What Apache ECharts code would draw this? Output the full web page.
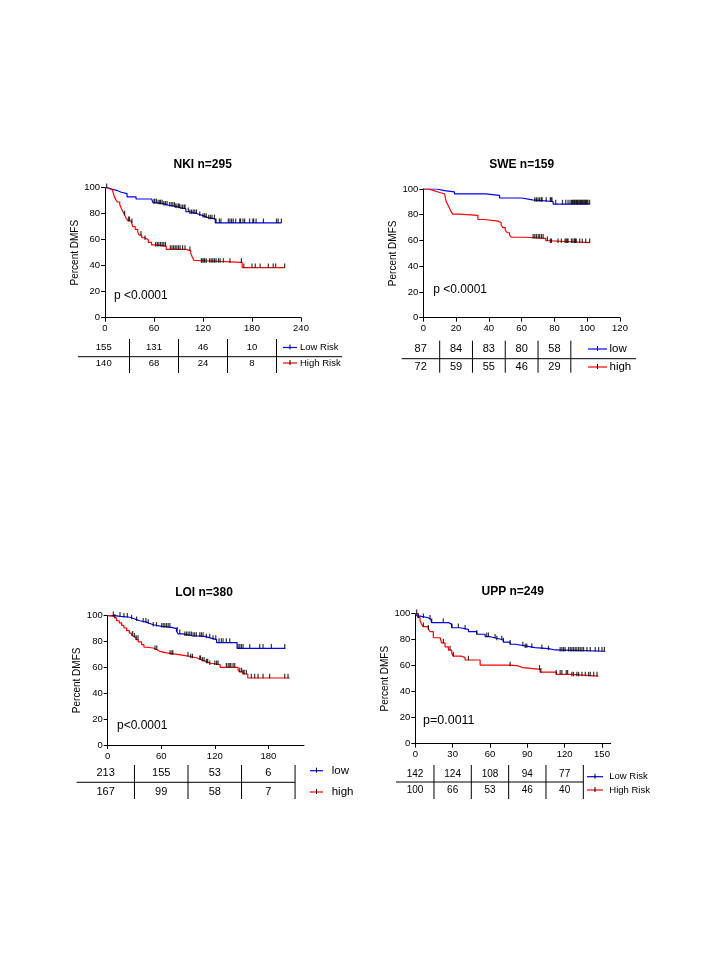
<!DOCTYPE html>
<html><head><meta charset="utf-8">
<script src="https://cdn.jsdelivr.net/npm/echarts@6/dist/echarts.min.js"></script>
<style>html,body{margin:0;padding:0;background:#fff}#c{width:720px;height:960px}</style>
</head><body><div id="c"></div>
<script>
// ---------- DATA (months, percent DMFS) ----------
const nkiLow = [[0,100],[3,99],[8,98],[14,96.5],[20,95.5],[27,93],[38,91.3],[57,90.5],[59,88.3],[64,87.5],[72,86.5],[78,85.7],[86,84.5],[93,83.8],[99,81.5],[103,80],[113,78.5],[120,77],[126,76],[135,73],[216,73]];
const nkiHigh = [[0,100],[3,99],[6,98.5],[9,97],[11,94],[13,91],[15,89],[18,87],[20,84],[22,81.5],[24,79],[26,76.5],[28,74.5],[32,73],[34,70],[37,68],[40,66],[42,63.5],[45,61.5],[49,60],[53,58],[57,56],[61,55],[75,52.5],[99,51.5],[105,49.5],[107,46.5],[109,44],[113,42.5],[168,38.5],[220,38.5]];
const nkiLowCens = [2,60,61,63,65,67,68,70,72,74,76,79,81,83,85,86,88,90,91,93,95,97,98,102,104,106,108,110,112,116,120,122,124,127,129,131,134,136,140,142,151,153,155,157,160,165,166,169,171,177,181,182,185,194,210,212,216];
const nkiHighCens = [24,29,30,33,44,49,62,64,66,68,70,72,74,80,82,84,86,88,90,92,95,98,104,118,119,121,122,124,128,130,132,134,136,139,141,145,153,167,170,180,184,190,200,206,209,220];
const nkiRiskTimes = [0,60,120,180];
const nkiRiskLow = [155,131,46,10];
const nkiRiskHigh = [140,68,24,8];

const sweLow = [[0,100],[8,98.8],[13,97.8],[19,96.2],[38,95],[46.5,93],[60,91.5],[66.6,90.3],[79.2,88.3],[101.5,88.3]];
const sweHigh = [[0,100],[3,98.5],[7,97.5],[9.5,96.3],[13,95],[13.5,92.8],[14,90.1],[15,87.6],[16,85],[17,82.4],[18,80.5],[22.2,79.5],[33.3,76.3],[37.4,75],[45.5,74],[47.5,72],[48.5,70],[50,68.1],[51.2,66],[52.6,64.3],[53.6,62.5],[62,61.7],[74.7,59.8],[76.7,58.3],[101.5,58.3]];
const sweLowCens = [68,69,70,71,72,72.5,75,77.5,78,78.5,80.8,84.9,86.9,88.3,89.5,90.4,91,91.5,92,92.4,93,93.5,94,94.4,95,95.5,96,96.5,97,97.5,98,98.5,99,99.5,100,100.5,101.5];
const sweHighCens = [67,68,69,70.1,71,72.1,73.1,75.7,77.5,78.2,82.2,84.2,86.5,87.2,87.8,88.3,90.4,91.3,92.3,92.8,93.3,95.4,97,99.1,101.5];
const sweRiskTimes = [0,20,40,60,80];
const sweRiskLow = [87,84,83,80,58];
const sweRiskHigh = [72,59,55,46,29];

const loiLow = [[0,100],[8,99.5],[14,98.8],[25,97.4],[30.5,96.1],[36,95],[43.6,94],[47.3,93],[51,91.8],[60.4,91],[71.6,90],[77.1,88],[79,86],[84.5,84.5],[95,84],[109,82.8],[115,81.5],[122,79.2],[145,74.8],[199,74.8]];
const loiHigh = [[0,100],[2.6,99.5],[6.3,98],[10,96.1],[13,94.4],[15.6,92.5],[18.2,90.5],[21.2,88.4],[24.2,86.6],[26.8,84.8],[28.6,83.3],[31.6,81.5],[34.2,79.7],[38,77.6],[40.6,75.6],[43.6,75],[51,73.7],[55.5,72.4],[58.5,71.2],[66,69.9],[80,68.6],[92,67.3],[100,66],[105,64.7],[110,63.4],[114,62.1],[126,60.1],[146,58.2],[148,56.5],[151.6,54.9],[157,51.8],[204,51.8]];
const loiLowCens = [6.3,13.8,18.2,22,26.8,32.4,39.8,42.8,45.4,51,54.7,60.4,62.2,64,65.9,67.8,69.7,77.9,80.8,86.4,88.3,90.1,92,93.8,95.7,97.5,99.4,103.2,105,106.9,110.6,114.4,118.1,121.1,124.8,127.4,129.3,133,136.8,146.1,148,149.8,151.7,159.2,170.4,174.1,183.4,198.4];
const loiHighCens = [8,28,30,32,34,53,55,70,72,73,90,93,95,104,103.2,106,108,110.7,112,114.4,120,122,123.7,133,135,136.8,138,140.5,142.4,148,150,151.7,153,155.4,161,164.7,168.5,174.1,181.5,198.4,202.1];
const loiRiskTimes = [0,60,120,180];
const loiRiskLow = [213,155,53,6];
const loiRiskHigh = [167,99,58,7];

const uppLow = [[0,100],[1.6,98.2],[3.8,96.9],[10.5,95.7],[12.4,94.6],[13.2,93.1],[27,91.8],[29.3,89.2],[36,88],[42.7,86.2],[49.4,84.2],[56.1,82.3],[60.1,81.1],[65.5,79.8],[70.8,78.2],[76.2,76.5],[80.2,75.2],[88.3,73.9],[96.3,73.1],[107,72.1],[112.4,71.1],[152.7,71.1]];
const uppHigh = [[0,100],[2,97],[3.8,94.6],[5,92],[6.4,90],[10.5,88],[12,86.2],[14.5,81.5],[19.9,80],[21.2,77.5],[23.9,74.5],[26.6,72],[29.3,69.5],[30.6,67.3],[37.3,66.2],[40,64.4],[52.1,60.5],[76.2,59.8],[82.9,58.5],[86.4,57.2],[100.3,55],[113.2,53.4],[124.5,52],[147,52]];
const uppLowCens = [1.1,6.5,11.8,13.2,22.5,29.3,34.6,40,49.4,57.4,58.8,64.1,65.5,69.5,70.8,76.2,86.4,88.3,89.6,93.6,101.7,107,116.4,117.8,119.1,120.4,123.1,124.5,125.8,127.1,128.5,129.8,131.2,132.5,133.9,135.2,137.9,140.6,144.6,147.3,150,151.9];
const uppHighCens = [2.5,6.5,10.5,22.5,27.9,30.6,42.7,76.2,99.8,100.9,113.2,116.4,117.8,121.3,122.4,125.8,127.1,129.8,131.2,133.9,136.6,139.2,140.6,143.3,146];
const uppRiskTimes = [0,30,60,90,120];
const uppRiskLow = [142,124,108,94,77];
const uppRiskHigh = [100,66,53,46,40];

// ---------- LAYOUT ----------
const FONT = '"Liberation Sans", Arial, sans-serif';
const NARROW = '"Liberation Sans Narrow", "Liberation Sans", sans-serif';
const BLUE = '#0000ff', RED = '#ff0000';
const panels = [
  {title:'NKI n=295', tx:202.7, ty:166, grid:{left:105, top:187.7, width:196, height:130}, xMax:240, xInt:60, ticks:null,
   low:nkiLow, high:nkiHigh, lowC:nkiLowCens, highC:nkiHighCens, p:'p <0.0001', px:114, py:296, pFont:12,
   rt:nkiRiskTimes, rl:nkiRiskLow, rh:nkiRiskHigh, r1:347.7, r2:363, hy:356.7, vt:339, vb:373, tl:78, hr:342, numFont:9.5,
   leg:['Low Risk','High Risk'], lx1:283, lx2:297, ltx:300, ly1:347.5, ly2:363, legFont:NARROW, legSize:9.5},
  {title:'SWE n=159', tx:521.7, ty:166, grid:{left:423.3, top:189, width:196.7, height:128.7}, xMax:120, xInt:20, ticks:null,
   low:sweLow, high:sweHigh, lowC:sweLowCens, highC:sweHighCens, p:'p <0.0001', px:433.3, py:290, pFont:12,
   rt:sweRiskTimes, rl:sweRiskLow, rh:sweRiskHigh, r1:349.3, r2:367, hy:358.7, vt:340.7, vb:372.7, tl:401.7, hr:636, numFont:11,
   leg:['low','high'], lx1:588, lx2:607, ltx:609.5, ly1:349, ly2:367, legFont:FONT, legSize:11.5},
  {title:'LOI n=380', tx:204, ty:594, grid:{left:107.7, top:615.7, width:196.3, height:129.3}, xMax:220, xInt:60, ticks:[0,60,120,180],
   low:loiLow, high:loiHigh, lowC:loiLowCens, highC:loiHighCens, p:'p<0.0001', px:117, py:725.7, pFont:12,
   rt:loiRiskTimes, rl:loiRiskLow, rh:loiRiskHigh, r1:772.7, r2:791.7, hy:782.3, vt:765, vb:799, tl:76.7, hr:null, numFont:11,
   leg:['low','high'], lx1:310, lx2:323, ltx:331.7, ly1:770.7, ly2:792, legFont:FONT, legSize:11.5},
  {title:'UPP n=249', tx:512.7, ty:592.7, grid:{left:415.3, top:613.7, width:195.4, height:130}, xMax:157, xInt:30, ticks:[0,30,60,90,120,150],
   low:uppLow, high:uppHigh, lowC:uppLowCens, highC:uppHighCens, p:'p=0.0011', px:423, py:721, pFont:12.5,
   rt:uppRiskTimes, rl:uppRiskLow, rh:uppRiskHigh, r1:774, r2:790.3, hy:782, vt:765, vb:799, tl:396, hr:null, numFont:10,
   leg:['Low Risk','High Risk'], lx1:587, lx2:603, ltx:609.3, ly1:776.7, ly2:790, legFont:NARROW, legSize:9.5}
];

function survAt(curve, t){ let s = curve[0][1]; for (const p of curve){ if (p[0] <= t) s = p[1]; else break; } return s; }

const grids = [], xAxes = [], yAxes = [], series = [], titles = [];
panels.forEach((P, i) => {
  grids.push(Object.assign({}, P.grid));
  titles.push({text:P.title, left:P.tx, top:P.ty - 7, textAlign:'center', padding:0,
    textStyle:{fontFamily:FONT, fontWeight:'bold', fontSize:12, color:'#000'}});
  const axisCommon = {axisLine:{show:true, onZero:false, lineStyle:{color:'#000', width:1}},
    axisTick:{show:true, length:4, lineStyle:{color:'#000'}}, splitLine:{show:false}};
  const xa = Object.assign({type:'value', gridIndex:i, min:0, max:P.xMax, interval:P.xInt,
    axisLabel:{fontFamily:FONT, fontSize:9.5, color:'#000', margin:6}}, axisCommon);
  if (P.ticks){
    xa.axisLabel.customValues = P.ticks;
    xa.axisTick = {show:true, length:4, lineStyle:{color:'#000'}, customValues:P.ticks};
  }
  xAxes.push(xa);
  yAxes.push(Object.assign({type:'value', gridIndex:i, min:0, max:100, interval:20,
    name:'Percent DMFS', nameLocation:'middle', nameGap:25,
    nameTextStyle:{fontFamily:FONT, fontSize:10, color:'#000'},
    axisLabel:{fontFamily:FONT, fontSize:9.5, color:'#000', margin:5}}, axisCommon));
  [[P.low, BLUE, P.lowC], [P.high, RED, P.highC]].forEach(([curve, col, cens]) => {
    series.push({type:'line', xAxisIndex:i, yAxisIndex:i, step:'end', symbol:'none', data:curve,
      lineStyle:{color:col, width:1.2}, silent:true, z:2});
    series.push({type:'scatter', xAxisIndex:i, yAxisIndex:i, symbol:'rect', symbolSize:[1.2,4.5], symbolOffset:[0,-2],
      itemStyle:{color:'#000'}, data:cens.map(t => [t, survAt(curve, t)]), silent:true, z:3});
  });
});

const chart = echarts.init(document.getElementById('c'), null, {renderer:'canvas'});
chart.setOption({backgroundColor:'#fff', animation:false, title:titles, grid:grids, xAxis:xAxes, yAxis:yAxes, series:series});

// risk tables, legends, p-values
const g = [];
panels.forEach((P, i) => {
  const px = t => chart.convertToPixel({xAxisIndex:i}, t);
  const n = P.rt.length;
  const edges = [P.tl];
  for (let k = 0; k < n; k++){
    const next = k < n-1 ? (P.rt[k] + P.rt[k+1]) / 2 : P.rt[k] + (P.rt[k] - P.rt[k-1]) / 2;
    edges.push(px(next));
  }
  const hr = P.hr == null ? edges[n] : P.hr;
  g.push({type:'line', shape:{x1:P.tl, y1:P.hy, x2:hr, y2:P.hy}, style:{stroke:'#000', lineWidth:1}});
  for (let k = 1; k <= n; k++){
    g.push({type:'line', shape:{x1:edges[k], y1:P.vt, x2:edges[k], y2:P.vb}, style:{stroke:'#000', lineWidth:1}});
  }
  for (let k = 0; k < n; k++){
    const cx = (edges[k] + edges[k+1]) / 2;
    g.push({type:'text', x:cx, y:P.r1, style:{text:String(P.rl[k]), fill:'#000', font:P.numFont+'px '+FONT, textAlign:'center', textVerticalAlign:'middle'}});
    g.push({type:'text', x:cx, y:P.r2, style:{text:String(P.rh[k]), fill:'#000', font:P.numFont+'px '+FONT, textAlign:'center', textVerticalAlign:'middle'}});
  }
  [[P.ly1, BLUE, P.leg[0]], [P.ly2, RED, P.leg[1]]].forEach(([y, col, txt]) => {
    g.push({type:'line', shape:{x1:P.lx1, y1:y, x2:P.lx2, y2:y}, style:{stroke:col, lineWidth:1.2}});
    const mx = (P.lx1 + P.lx2) / 2;
    g.push({type:'line', shape:{x1:mx, y1:y-3, x2:mx, y2:y+2}, style:{stroke:'#000', lineWidth:1}});
    g.push({type:'text', x:P.ltx, y:y, style:{text:txt, fill:'#000', font:P.legSize+'px '+P.legFont, textAlign:'left', textVerticalAlign:'middle'}});
  });
  g.push({type:'text', x:P.px, y:P.py, style:{text:P.p, fill:'#000', font:P.pFont+'px '+FONT, textAlign:'left', textVerticalAlign:'middle'}});
});
chart.setOption({graphic:g});
</script></body></html>
